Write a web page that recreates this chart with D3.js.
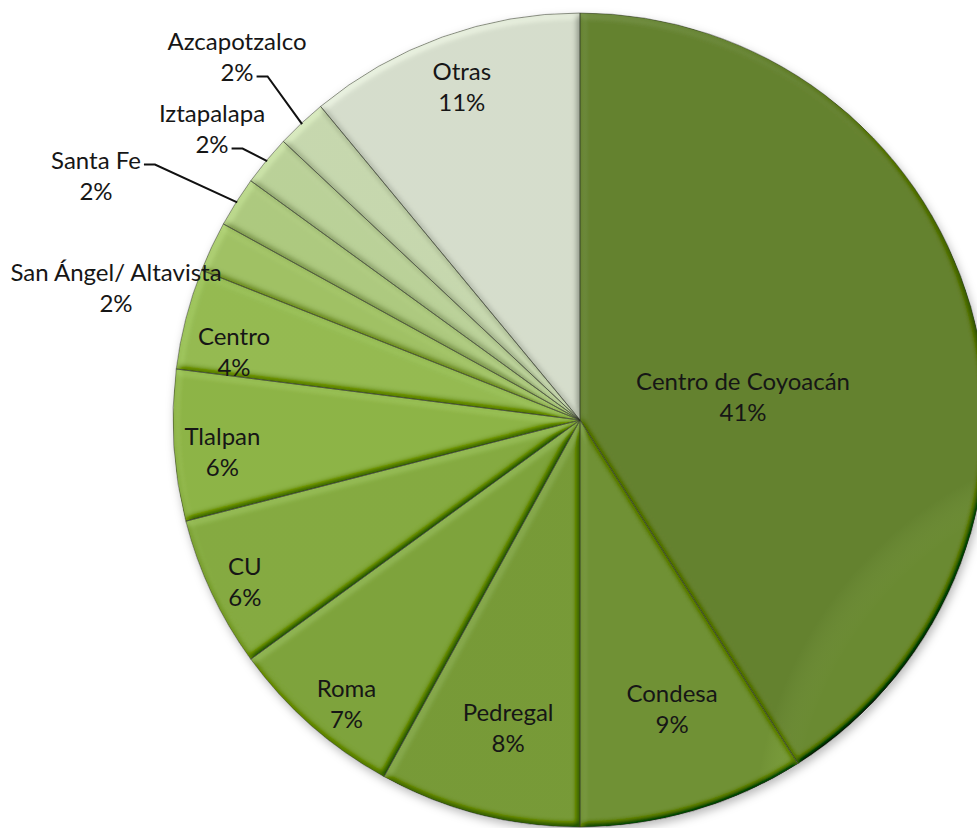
<!DOCTYPE html>
<html>
<head>
<meta charset="utf-8">
<script src="https://cdn.jsdelivr.net/npm/d3@7"></script>
<style>
  html, body { margin: 0; padding: 0; background: #ffffff; }
  svg { display: block; }
  text { font-family: Lato, "Open Sans", sans-serif; }
</style>
</head>
<body>
<svg id="chart" width="977" height="828"></svg>
<script>
// Zones of origin, share of respondents (%)
const categories = ["Centro de Coyoacán", "Condesa", "Pedregal", "Roma", "CU", "Tlalpan",
                    "Centro", "San Ángel/ Altavista", "Santa Fe", "Iztapalapa", "Azcapotzalco", "Otras"];
const shares = [41, 9, 8, 7, 6, 6, 4, 2, 2, 2, 2, 11];
const sliceColors = ["#6b8a32", "#779a38", "#7fa43b", "#86ad3f", "#8db544", "#96bf4b",
                     "#9ec657", "#aacd6b", "#b8d687", "#c6dea2", "#d3e5b9", "#e3ebd9"];

// Label layout: inside labels sit at (mid-angle + shift, fraction of radius);
// outside labels are given as offsets from the pie centre, some with a leader line.
const insideLabels = {
  0: [7.8, 0.405], 1: [-1.5, 0.744], 2: [-1.2, 0.774], 3: [-1.9, 0.902],
  4: [-0.5, 0.914], 5: [-1.4, 0.882], 6: [-3.1, 0.867], 11: [0.3, 0.870]
};
const outsideLabels = {
  7:  { dx: -464, dy: -133, leader: null },
  8:  { dx: -484, dy: -245, leader: "name" },
  9:  { dx: -368, dy: -292, leader: "pct" },
  10: { dx: -343, dy: -364, leader: "pct" }
};

const cx = 580, cy = 420, R = 407, lineGap = 31, fontSize = 24;

const svg = d3.select("#chart");
const defs = svg.append("defs");

// Soft shadow under the whole pie
const shadow = defs.append("filter").attr("id", "pieShadow")
  .attr("x", "-10%").attr("y", "-10%").attr("width", "120%").attr("height", "120%");
shadow.append("feDropShadow").attr("dx", 2).attr("dy", 4).attr("stdDeviation", 5)
  .attr("flood-color", "#000").attr("flood-opacity", 0.28);

// Rounded bevel on each slice, lit from the upper left (mostly multiplicative so hues stay olive)
const bevel = defs.append("filter").attr("id", "bevel")
  .attr("x", "-5%").attr("y", "-5%").attr("width", "110%").attr("height", "110%");
bevel.append("feGaussianBlur").attr("in", "SourceAlpha").attr("stdDeviation", 3.5).attr("result", "blur");
const light = bevel.append("feDiffuseLighting").attr("in", "blur").attr("surfaceScale", 4)
  .attr("diffuseConstant", 1).attr("lighting-color", "#ffffff").attr("result", "diffuse");
light.append("feDistantLight").attr("azimuth", 235).attr("elevation", 55);
bevel.append("feComposite").attr("in", "SourceGraphic").attr("in2", "diffuse")
  .attr("operator", "arithmetic").attr("k1", 0.85).attr("k2", 0.304).attr("k3", 0.2).attr("k4", -0.164)
  .attr("result", "lit");
bevel.append("feComposite").attr("in", "lit").attr("in2", "SourceAlpha").attr("operator", "in");

// Gentle darkening toward the hub and the rim
const shade = defs.append("radialGradient").attr("id", "shade")
  .attr("gradientUnits", "userSpaceOnUse").attr("cx", cx).attr("cy", cy).attr("r", R);
shade.append("stop").attr("offset", "0%").attr("stop-color", "#000").attr("stop-opacity", 0.12);
shade.append("stop").attr("offset", "35%").attr("stop-color", "#000").attr("stop-opacity", 0.0);
shade.append("stop").attr("offset", "90%").attr("stop-color", "#fff").attr("stop-opacity", 0.0);
shade.append("stop").attr("offset", "100%").attr("stop-color", "#000").attr("stop-opacity", 0.06);

const pie = d3.pie().sort(null).value(d => d.value).startAngle(0).endAngle(2 * Math.PI);
const data = categories.map((c, i) => ({ name: c, value: shares[i], color: sliceColors[i], i }));
const arcs = pie(data);
const arc = d3.arc().innerRadius(0).outerRadius(R);

const g = svg.append("g").attr("transform", `translate(${cx},${cy})`);

g.append("circle").attr("r", R).attr("fill", "#ffffff").attr("filter", "url(#pieShadow)");

g.selectAll("path.slice").data(arcs).join("path")
  .attr("class", "slice")
  .attr("d", arc)
  .attr("fill", d => d.data.color)
  .attr("filter", "url(#bevel)");

g.selectAll("path.edge").data(arcs).join("path")
  .attr("class", "edge")
  .attr("d", arc)
  .attr("fill", "url(#shade)")
  .attr("stroke", "rgba(50,55,40,0.5)")
  .attr("stroke-width", 1);

const polar = (angDeg, r) => {
  const a = angDeg * Math.PI / 180;
  return [r * Math.sin(a), -r * Math.cos(a)];
};
const midDeg = d => ((d.startAngle + d.endAngle) / 2) * 180 / Math.PI;

function drawLabel(x, y, d) {
  const t = g.append("g").attr("class", "label");
  const name = t.append("text").attr("x", x).attr("y", y - lineGap / 2)
    .attr("text-anchor", "middle").attr("dominant-baseline", "central")
    .attr("font-size", fontSize).attr("fill", "#161616").text(d.data.name);
  const pct = t.append("text").attr("x", x).attr("y", y + lineGap / 2)
    .attr("text-anchor", "middle").attr("dominant-baseline", "central")
    .attr("font-size", fontSize).attr("fill", "#161616").text(d.data.value + "%");
  return { name, pct };
}

arcs.forEach(d => {
  const i = d.data.i;
  if (insideLabels[i]) {
    const [shift, frac] = insideLabels[i];
    const [x, y] = polar(midDeg(d) + shift, frac * R);
    drawLabel(x, y, d);
  } else if (outsideLabels[i]) {
    const o = outsideLabels[i];
    const lab = drawLabel(o.dx, o.dy, d);
    if (o.leader) {
      const node = (o.leader === "name" ? lab.name : lab.pct).node();
      const w = node.getComputedTextLength();
      const ly = o.dy + (o.leader === "name" ? -lineGap / 2 : lineGap / 2) + 5;
      const x0 = o.dx + w / 2 + 3;
      const [ex, ey] = polar(midDeg(d), R - 1);
      g.append("polyline")
        .attr("points", [[x0, ly], [x0 + 11, ly], [ex, ey]].map(p => p.join(",")).join(" "))
        .attr("fill", "none").attr("stroke", "#111").attr("stroke-width", 2);
    }
  }
});
</script>
</body>
</html>
